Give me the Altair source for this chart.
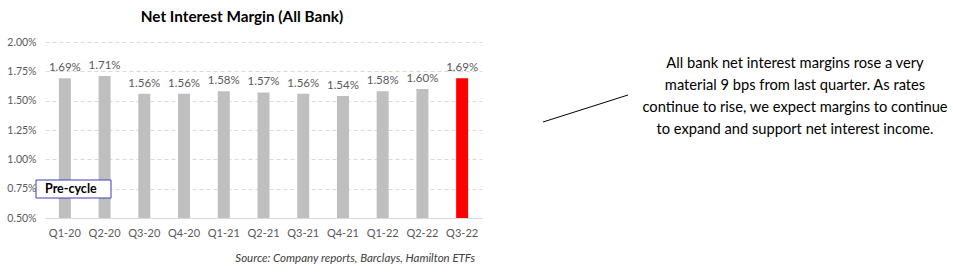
import altair as alt
import pandas as pd

quarters = ["Q1-20", "Q2-20", "Q3-20", "Q4-20", "Q1-21", "Q2-21", "Q3-21", "Q4-21", "Q1-22", "Q2-22", "Q3-22"]
nim = [1.69, 1.71, 1.56, 1.56, 1.58, 1.57, 1.56, 1.54, 1.58, 1.60, 1.69]
highlight = [False] * 10 + [True]
y_ticks = [0.50, 0.75, 1.00, 1.25, 1.50, 1.75, 2.00]

title_text = "Net Interest Margin (All Bank)"
source_text = "Source: Company reports, Barclays, Hamilton ETFs"
box_text = "Pre-cycle"
note_lines = [
    "All bank net interest margins rose a very",
    "material 9 bps from last quarter. As rates",
    "continue to rise, we expect margins to continue",
    "to expand and support net interest income.",
]

FONT = "Lato"
GREY_TXT = "#595959"

df = pd.DataFrame({"q": quarters, "nim": nim, "hl": highlight, "base": 0.5})
df["label"] = [f"{v:.2f}%" for v in nim]

W, H = 437, 176
PL, PT = 45, 42

x = alt.X("q:N", sort=quarters, title=None,
          scale=alt.Scale(paddingInner=0.7, paddingOuter=0.35),
          axis=alt.Axis(labelAngle=0, ticks=False, domain=True, domainColor="#D9D9D9",
                        domainWidth=1, labelFont=FONT, labelFontSize=11, labelColor=GREY_TXT,
                        labelPadding=9, grid=False))
y = alt.Y("nim:Q", title=None,
          scale=alt.Scale(domain=[0.5, 2.0], zero=False, nice=False),
          axis=alt.Axis(values=y_ticks, tickCount=7, labelExpr="format(datum.value, '.2f') + '%'",
                        domain=False, ticks=False, grid=True, gridDash=[4, 3],
                        gridColor="#D9D9D9", labelFont=FONT, labelFontSize=10.5,
                        labelColor=GREY_TXT, labelPadding=9, labelOverlap=False))

base = alt.Chart(df)

bars = base.mark_bar(size=12).encode(
    x=x, y=y, y2="base:Q",
    color=alt.Color("hl:N", scale=alt.Scale(domain=[False, True], range=["#BFBFBF", "#FF0000"]), legend=None),
)

labels = base.mark_text(baseline="bottom", dy=-5, font=FONT, fontSize=11.5, color=GREY_TXT).encode(
    x=x, y=y, text="label:N"
)

ann = pd.DataFrame({"dummy": [0]})
box = alt.Chart(ann).mark_rect(fill="white", stroke="#3F3FBF", strokeWidth=1).encode(
    x=alt.value(-9), x2=alt.value(66), y=alt.value(138), y2=alt.value(156)
)
box_label = alt.Chart(ann).mark_text(text=box_text, font=FONT, fontSize=12.5, fontWeight="bold",
                                     align="left", baseline="middle", color="black").encode(
    x=alt.value(0), y=alt.value(147)
)
title = alt.Chart(ann).mark_text(text=title_text, font=FONT, fontSize=15.3, fontWeight="bold",
                                 align="center", baseline="middle", color="black").encode(
    x=alt.value(197), y=alt.value(-25)
)
source = alt.Chart(ann).mark_text(text=source_text, font=FONT, fontSize=11.5, fontStyle="italic",
                                  align="right", baseline="middle", color="#404040").encode(
    x=alt.value(430), y=alt.value(217)
)
note = alt.Chart(ann).mark_text(text=note_lines, font=FONT, fontSize=14.7, lineHeight=22,
                                align="center", baseline="middle", color="black").encode(
    x=alt.value(750), y=alt.value(22)
)
pointer = alt.Chart(ann).mark_rule(color="black", strokeWidth=1).encode(
    x=alt.value(498), x2=alt.value(583), y=alt.value(80), y2=alt.value(53)
)

chart = alt.layer(bars, labels, box, box_label, title, source, note, pointer).properties(
    width=W, height=H,
    autosize=alt.AutoSizeParams(type="none"),
    padding={"left": PL, "top": PT, "right": 953 - PL - W, "bottom": 274 - PT - H},
).configure(background="white").configure_view(stroke=None, clip=False)

chart.save("out.html", embed_options={"renderer": "svg", "actions": False})
